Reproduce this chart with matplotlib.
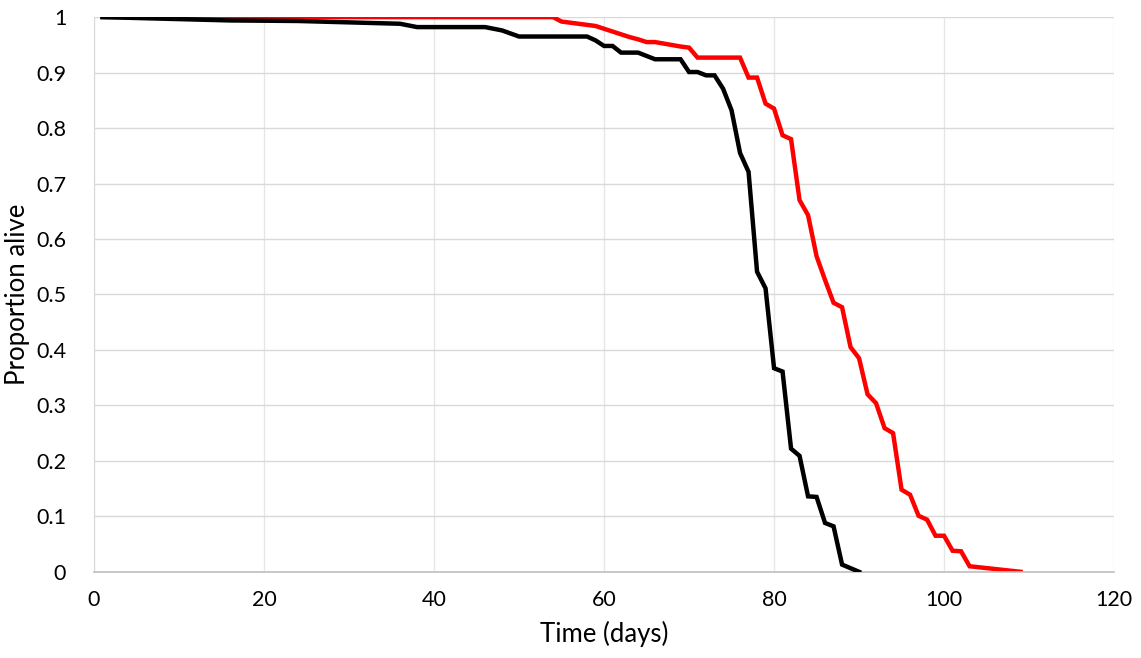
import matplotlib
matplotlib.use("Agg")
import matplotlib.pyplot as plt

# survival curves, proportion alive per day
black_days = [1, 16, 24, 36, 38, 46, 48, 50, 58, 59, 60, 61, 62, 64, 66, 69, 70, 71,
              72, 73, 74, 75, 76, 77, 78, 79, 80, 81, 82, 83, 84, 85, 86, 87, 88, 90]
black_alive = [1.0, 0.994, 0.993, 0.988, 0.982, 0.982, 0.976, 0.965, 0.965, 0.958,
               0.948, 0.948, 0.936, 0.936, 0.924, 0.924, 0.901, 0.901, 0.895, 0.895,
               0.871, 0.832, 0.755, 0.721, 0.541, 0.511, 0.367, 0.361, 0.222, 0.209,
               0.136, 0.135, 0.088, 0.082, 0.013, 0.0]

red_days = [1, 54, 55, 59, 60, 61, 62, 63, 64, 65, 66, 69, 70, 71, 76, 77, 78, 79, 80,
            81, 82, 83, 84, 85, 86, 87, 88, 89, 90, 91, 92, 93, 94, 95, 96, 97, 98,
            99, 100, 101, 102, 103, 109]
red_alive = [1.0, 1.0, 0.992, 0.984, 0.979, 0.974, 0.969, 0.964, 0.96, 0.955, 0.955,
             0.947, 0.945, 0.927, 0.927, 0.891, 0.891, 0.844, 0.835, 0.787, 0.78,
             0.67, 0.643, 0.569, 0.526, 0.485, 0.477, 0.405, 0.385, 0.32, 0.304,
             0.259, 0.25, 0.148, 0.139, 0.101, 0.094, 0.065, 0.065, 0.038, 0.037,
             0.01, 0.0]

plt.rcParams["font.family"] = ["Lato", "DejaVu Sans"]

fig, ax = plt.subplots(figsize=(11.41, 6.58), dpi=100)
fig.subplots_adjust(left=0.0824, right=0.9764, top=0.974, bottom=0.131)

ax.plot(black_days, black_alive, color="black", lw=3.2, zorder=3,
        solid_joinstyle="miter")
ax.plot(red_days, red_alive, color="#ff0000", lw=3.2, zorder=2,
        solid_joinstyle="miter")

ax.set_xlim(0, 120)
ax.set_ylim(0, 1)
ax.set_xticks(range(0, 121, 20))
ax.set_yticks([i / 10 for i in range(11)])
ax.set_yticklabels(["0"] + [f"{i / 10:.1f}" for i in range(1, 10)] + ["1"])

ax.grid(axis="y", color="#d9d9d9", lw=1.0, zorder=0)
ax.grid(axis="x", color="#e6e6e6", lw=1.0, zorder=0)
ax.set_axisbelow(True)

for side in ["top", "right"]:
    ax.spines[side].set_visible(False)
ax.spines["left"].set_color("#d9d9d9")
ax.spines["bottom"].set_color("#bfbfbf")
ax.spines["bottom"].set_linewidth(1.2)

ax.tick_params(axis="both", length=0, labelsize=15.5, colors="black")
ax.tick_params(axis="x", pad=13)
ax.tick_params(axis="y", pad=20)

ax.set_xlabel("Time (days)", fontsize=18.5, labelpad=8)
ax.set_ylabel("Proportion alive", fontsize=18.5)
ax.yaxis.set_label_coords(-0.063, 0.5)

fig.savefig("out.png", dpi=100)
